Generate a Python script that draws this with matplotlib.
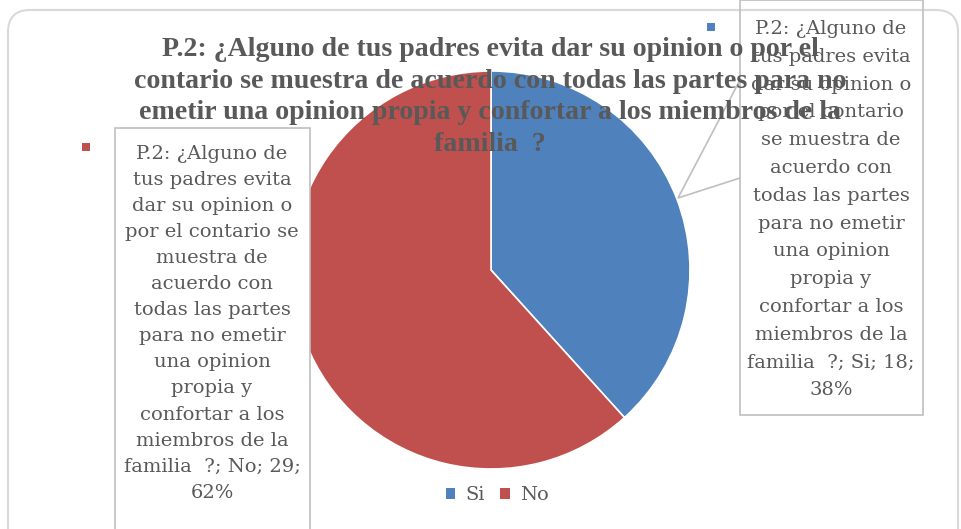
import matplotlib.pyplot as plt
from matplotlib.patches import FancyBboxPatch, Rectangle, Polygon, Patch

# data
categories = ["Si", "No"]
values = [18, 29]
colors = ["#4F81BD", "#C0504D"]
title_lines = ["P.2: ¿Alguno de tus padres evita dar su opinion o por el",
               "contario se muestra de acuerdo con todas las partes para no",
               "emetir una opinion propia y confortar a los miembros de la",
               "familia  ?"]
label_si = ["P.2: ¿Alguno de", "tus padres evita", "dar su opinion o", "por el contario",
            "se muestra de", "acuerdo con", "todas las partes", "para no emetir",
            "una opinion", "propia y", "confortar a los", "miembros de la",
            "familia  ?; Si; 18;", "38%"]
label_no = ["P.2: ¿Alguno de", "tus padres evita", "dar su opinion o", "por el contario se",
            "muestra de", "acuerdo con", "todas las partes", "para no emetir",
            "una opinion", "propia y", "confortar a los", "miembros de la",
            "familia  ?; No; 29;", "62%"]

W, H = 961, 529
fig = plt.figure(figsize=(W / 100, H / 100), dpi=100)

# pie axes
cx, cy, r = 491, 270, 200
axp = fig.add_axes([(cx - r) / W, (H - cy - r) / H, 2 * r / W, 2 * r / H], zorder=1)
axp.pie(values, colors=colors, startangle=90, counterclock=False,
        wedgeprops=dict(edgecolor="white", linewidth=1.2))
axp.set_xlim(-1.005, 1.005)
axp.set_ylim(-1.005, 1.005)
axp.set_aspect("auto")
axp.axis("off")

# overlay axes in pixel coords
ax = fig.add_axes([0, 0, 1, 1], zorder=2)
ax.set_xlim(0, W)
ax.set_ylim(H, 0)
ax.axis("off")
ax.patch.set_alpha(0)

# outer rounded frame
ax.add_patch(FancyBboxPatch((8, 10), 950, 560, boxstyle="round,pad=0,rounding_size=22",
                            fill=False, edgecolor="#D9D9D9", linewidth=1.5))

txtc = "#595959"
lab_font = "DejaVu Serif"
lab_size = 14

# left label box
ax.add_patch(Rectangle((115, 128), 195, 420, facecolor="white", edgecolor="#BFBFBF", linewidth=1.2))
ax.text(212, 145, "\n".join(label_no), ha="center", va="top", fontsize=lab_size,
        family=lab_font, color=txtc, linespacing=1.575)
ax.add_patch(Rectangle((82, 143), 8, 8, facecolor=colors[1], edgecolor="none"))

# right label box with callout
ax.add_patch(Polygon([(740, 80), (678, 198), (740, 178)], closed=False, fill=False,
                     edgecolor="#BFBFBF", linewidth=1.2))
ax.add_patch(Rectangle((740, 0), 183, 415, facecolor="none", edgecolor="#BFBFBF", linewidth=1.2))
ax.text(831, 20, "\n".join(label_si), ha="center", va="top", fontsize=lab_size,
        family=lab_font, color=txtc, linespacing=1.70)
ax.add_patch(Rectangle((707, 23), 8, 8, facecolor=colors[0], edgecolor="none"))

# title
ax.text(490, 37, "\n".join(title_lines), ha="center", va="top", fontsize=20.1,
        family="Liberation Serif", fontweight="bold", color=txtc, linespacing=1.35, zorder=5)

# legend
handles = [Patch(facecolor=c, edgecolor="none") for c in colors]
leg = ax.legend(handles, categories, loc="center", bbox_to_anchor=(497 / W, 1 - 495 / H),
                ncol=2, frameon=False, handlelength=0.5, handleheight=0.5,
                handletextpad=0.5, columnspacing=0.8,
                prop={"family": lab_font, "size": 14})
for t in leg.get_texts():
    t.set_color(txtc)

fig.savefig("out.png", dpi=100)
